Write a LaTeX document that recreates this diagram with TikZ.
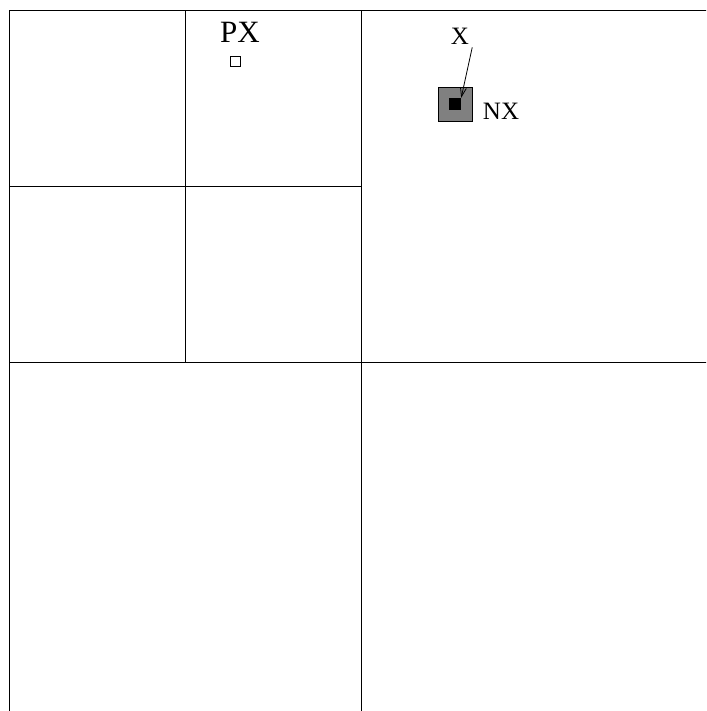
\documentclass[tikz,border=0pt]{standalone}
\usepackage{fontspec}
\setmainfont{Liberation Serif}
\usetikzlibrary{arrows.meta,positioning}
\tikzset{
  cell/.style={draw=black, line width=1pt},
  lbl/.style={inner sep=3pt, font=\fontsize{25}{25}\selectfont},
  pointer/.style={-{Straight Barb[length=9pt,width=6pt]}, line width=0.8pt}
}
\begin{document}
\begin{tikzpicture}[x=1pt, y=-1pt]
  \useasboundingbox (0,0) rectangle (706,711);
  \clip (0,0) rectangle (706,711);
  % quadtree cells
  \draw[cell] (9,11) rectangle (714,716);
  \draw[cell] (361.5,11) -- (361.5,716);
  \draw[cell] (9,362.5) -- (714,362.5);
  \draw[cell] (185,11) -- (185,362.5);
  \draw[cell] (9,187) -- (361.5,187);

  \node[lbl, font=\fontsize{31}{31}\selectfont] (pxlbl) at (240,32.5){PX};
  \node[draw, line width=0.8pt, minimum size=10pt, inner sep=0pt]
    (pxbox) at (235,61){};

  \node[draw, line width=0.8pt, fill=gray, minimum size=34pt, inner sep=0pt]
    (nxbox) at (455,104){};
  \node[fill=black, minimum size=12pt, inner sep=0pt]
    (xpt) at (nxbox.center){};
  \node[lbl] (nxlbl) at (501,111.5){NX};
  \node[lbl] (xlbl) at (460,36){X};
  \draw[pointer] (xlbl.south east) -- (xpt.north east);
\end{tikzpicture}
\end{document}
